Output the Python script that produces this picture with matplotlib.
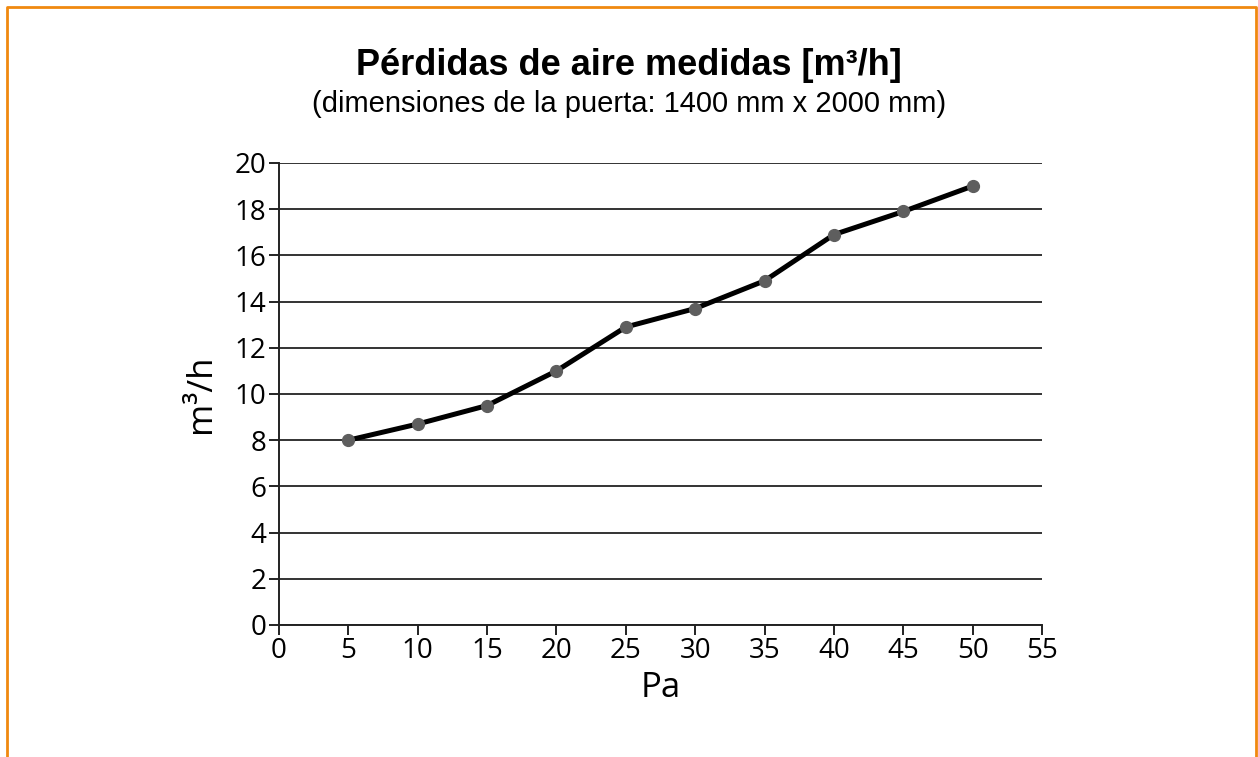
import matplotlib.pyplot as plt
from matplotlib.lines import Line2D

# data
pressure = [5, 10, 15, 20, 25, 30, 35, 40, 45, 50]
air_loss = [8.0, 8.7, 9.5, 11.0, 12.9, 13.7, 14.9, 16.9, 17.9, 19.0]
x_ticks = list(range(0, 60, 5))
y_ticks = list(range(0, 22, 2))

title = "Pérdidas de aire medidas [m³/h]"
subtitle = "(dimensiones de la puerta: 1400 mm x 2000 mm)"

fig = plt.figure(figsize=(12.58, 7.57), dpi=100)
ax = fig.add_axes([0.2218, 0.1744, 0.6065, 0.6103])

ax.plot(pressure, air_loss, color="black", lw=3.6, zorder=3,
        marker="o", markersize=8.5, markerfacecolor="#5e5e5e",
        markeredgecolor="#5e5e5e")

ax.set_xlim(0, 55)
ax.set_ylim(0, 20)
ax.set_xticks(x_ticks)
ax.set_yticks(y_ticks)
ax.yaxis.grid(True, color="#333333", lw=1.4)
ax.set_axisbelow(True)
for s in ["top", "right"]:
    ax.spines[s].set_visible(False)
for s in ["left", "bottom"]:
    ax.spines[s].set_color("#222222")
    ax.spines[s].set_linewidth(1.4)
ax.tick_params(direction="out", length=7, width=1.4, color="#222222",
               labelsize=20, pad=2)
for lab in ax.get_xticklabels() + ax.get_yticklabels():
    lab.set_family("Open Sans")

ax.set_xlabel("Pa", fontsize=25, family="Open Sans", labelpad=4)
ax.set_ylabel("m³/h", fontsize=25, family="Open Sans", labelpad=12)

fig.text(0.5, 0.914, title, ha="center", va="center", fontsize=26,
         fontweight="bold", family="Liberation Sans")
fig.text(0.5, 0.863, subtitle, ha="center", va="center", fontsize=21,
         family="Liberation Sans")

# orange frame, open at the bottom
orange = "#F0890F"
fig.add_artist(Line2D([7 / 1258, 7 / 1258, 1256 / 1258, 1256 / 1258],
                      [0, 1 - 7 / 757, 1 - 7 / 757, 0],
                      transform=fig.transFigure, color=orange, lw=2))

fig.savefig("out.png", dpi=100)
